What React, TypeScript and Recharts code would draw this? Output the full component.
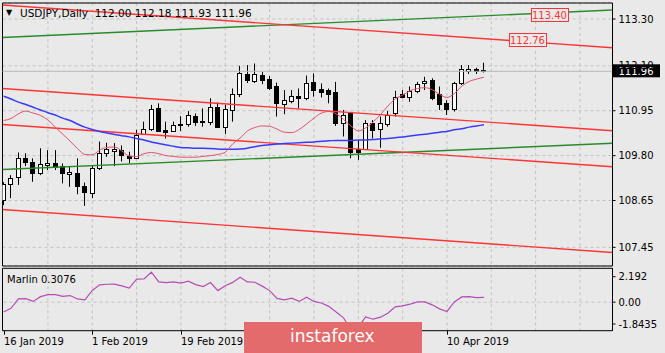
import React from 'react';
import {
  ComposedChart,
  Bar,
  Line,
  XAxis,
  YAxis,
  CartesianGrid,
  ReferenceLine,
  ReferenceArea,
  ReferenceDot,
} from 'recharts';

const W = 665;
const H = 353;
const BG = '#e9e9e9';
const FONT = '"DejaVu Sans", Verdana, sans-serif';

// ---------- data ----------
const xTickIndex = [0, 12, 24, 60];
const xTickLabels = ['16 Jan 2019', '1 Feb 2019', '19 Feb 2019', '10 Apr 2019'];
const gridIndex = [6, 12, 18, 24, 30, 36, 42, 48, 54, 60, 66, 72, 78];
const priceTicks = [107.45, 108.65, 109.8, 110.95, 112.1, 113.3];
const marlinTicks = [-1.8435, 0, 2.192];
const marlinTickLabels = ['-1.8435', '0.00', '2.192'];

const open = [
  108.66, 109.07, 109.24, 109.73, 109.64, 109.35, 109.55, 109.62, 109.53, 109.32,
  109.35, 109.02, 108.85, 109.47, 109.87, 109.93, 109.94, 109.79, 109.75, 110.35,
  110.48, 111.01, 110.46, 110.44, 110.6, 110.6, 110.82, 110.69, 110.65, 111.05,
  110.54, 110.97, 111.37, 111.89, 111.71, 111.87, 111.76, 111.58, 111.12, 111.2,
  111.34, 111.27, 111.69, 111.5, 111.48, 111.42, 110.63, 110.88, 109.96, 109.97,
  110.63, 110.47, 110.6, 110.9, 111.37, 111.31, 111.46, 111.65, 111.74, 111.37,
  111.14, 110.99, 111.65, 111.96, 112.01, 112.0,
];
const high = [
  109.12, 109.3, 109.88, 109.86, 109.73, 109.99, 109.94, 109.94, 109.6, 109.53,
  109.73, 109.11, 109.56, 110.16, 110.13, 110.12, 110.06, 109.9, 110.46, 110.67,
  111.1, 111.14, 110.67, 110.67, 110.81, 110.94, 110.88, 111.01, 111.27, 111.16,
  111.1, 111.52, 112.1, 112.12, 112.16, 111.94, 111.84, 111.67, 111.48, 111.48,
  111.52, 111.85, 111.91, 111.65, 111.52, 111.69, 110.97, 110.92, 110.2, 110.71,
  110.71, 110.8, 110.94, 111.46, 111.48, 111.57, 111.69, 111.82, 111.78, 111.57,
  111.22, 111.69, 112.12, 112.12, 112.05, 112.18,
];
const low = [
  108.53, 108.71, 109.05, 109.53, 109.13, 109.3, 109.43, 109.43, 109.09, 109.0,
  108.81, 108.51, 108.71, 109.43, 109.77, 109.53, 109.65, 109.6, 109.73, 110.33,
  110.43, 110.41, 110.24, 110.41, 110.43, 110.54, 110.56, 110.54, 110.58, 110.52,
  110.35, 110.67, 111.3, 111.66, 111.66, 111.63, 111.48, 110.8, 110.86, 111.14,
  111.01, 111.22, 111.31, 111.29, 111.14, 110.56, 110.29, 109.73, 109.69, 109.94,
  110.24, 110.0, 110.54, 110.8, 111.27, 111.18, 111.4, 111.48, 111.22, 110.97,
  110.84, 110.93, 111.61, 111.89, 111.89, 111.93,
];
const close = [
  109.07, 109.22, 109.73, 109.64, 109.36, 109.58, 109.62, 109.5, 109.35, 109.37,
  109.02, 108.88, 109.47, 109.87, 109.96, 109.96, 109.82, 109.73, 110.33, 110.48,
  111.0, 110.43, 110.41, 110.58, 110.62, 110.84, 110.67, 110.66, 111.04, 110.54,
  110.99, 111.37, 111.92, 111.74, 111.89, 111.74, 111.52, 111.14, 111.22, 111.34,
  111.27, 111.65, 111.47, 111.43, 111.39, 110.63, 110.84, 109.9, 109.9, 110.63,
  110.46, 110.63, 110.84, 111.31, 111.31, 111.46, 111.64, 111.71, 111.27, 111.11,
  110.99, 111.65, 112.02, 112.03, 111.98, 111.96,
];
const maFast = [
  110.7, 110.75, 110.87, 110.94, 110.89, 110.83, 110.71, 110.53, 110.35, 110.17,
  109.98, 109.83, 109.82, 109.94, 110.01, 110.02, 109.92, 109.79, 109.78, 109.85,
  109.88, 109.85, 109.8, 109.78, 109.76, 109.76, 109.76, 109.78, 109.8, 109.83,
  109.89, 110.1, 110.25, 110.43, 110.52, 110.56, 110.55, 110.48, 110.4, 110.39,
  110.47, 110.61, 110.76, 110.89, 110.93, 110.87, 110.73, 110.56, 110.43, 110.51,
  110.66, 110.85, 111.07, 111.25, 111.35, 111.46, 111.52, 111.54, 111.49, 111.37,
  111.29, 111.39, 111.58, 111.7, 111.76, 111.81,
];
const maSlow = [
  111.32, 111.25, 111.17, 111.11, 111.04, 110.97, 110.9, 110.84, 110.76, 110.7,
  110.61, 110.53, 110.47, 110.42, 110.38, 110.34, 110.31, 110.28, 110.24, 110.2,
  110.15, 110.11, 110.07, 110.04, 110.01, 110.0, 109.99, 109.99, 109.98, 109.97,
  109.96, 109.96, 109.97, 109.99, 110.03, 110.06, 110.08, 110.1, 110.11, 110.12,
  110.13, 110.14, 110.15, 110.17, 110.18, 110.19, 110.19, 110.19, 110.2, 110.2,
  110.21, 110.23, 110.24, 110.26, 110.28, 110.3, 110.33, 110.35, 110.37, 110.4,
  110.42, 110.46, 110.49, 110.53, 110.56, 110.59,
];
const marlin = [
  -0.63, -0.4, 0.21, 0.23, 0.05, 0.36, 0.49, 0.49, 0.38, 0.43,
  0.21, 0.15, 0.76, 1.12, 1.16, 1.17, 1.06, 0.91, 1.49, 1.5,
  1.94, 1.31, 1.27, 1.31, 1.24, 1.36, 1.14, 1.01, 1.27, 0.75,
  1.06, 1.28, 1.62, 1.31, 1.29, 1.04, 0.75, 0.25, 0.15, 0.26,
  0.05, 0.32, 0.05, -0.05, -0.27, -0.63, -1.01, -1.8, -1.6, -0.95,
  -1.1, -0.97, -0.71, -0.3, -0.24, -0.13, 0.02, 0.02, -0.17, -0.43,
  -0.6, 0.02, 0.34, 0.36, 0.3, 0.31,
];

// trend / channel lines (bar index, price)
const trendLines = [
  { x1: -0.149, y1: 112.826, x2: 82.4, y2: 113.531, color: '#2a8a2a' },
  { x1: -0.149, y1: 109.444, x2: 82.4, y2: 110.115, color: '#2a8a2a' },
  { x1: -0.149, y1: 113.659, x2: 82.4, y2: 112.565, color: '#ff3434' },
  { x1: -0.149, y1: 111.519, x2: 82.4, y2: 110.438, color: '#ff3434' },
  { x1: -0.149, y1: 110.597, x2: 82.4, y2: 109.516, color: '#ff3434' },
  { x1: -0.149, y1: 108.419, x2: 82.4, y2: 107.317, color: '#ff3434' },
];
const trendTags = [
  { x: 73.87, y: 113.4, text: '113.40' },
  { x: 70.89, y: 112.76, text: '112.76' },
];
const lastPrice = 111.96;
const titleText = 'USDJPY,Daily  112.00 112.18 111.93 111.96';
const marlinText = 'Marlin 0.3076';

const X_DOMAIN: [number, number] = [-0.149, 82.4];
const Y_DOMAIN: [number, number] = [106.972, 113.71];
const M_DOMAIN: [number, number] = [-1.8435, 2.192];

const rows = open.map((o, i) => ({
  i,
  o,
  h: high[i],
  l: low[i],
  c: close[i],
  fast: maFast[i],
  slow: maSlow[i],
  m: marlin[i],
}));

// ---------- shapes ----------
const Candle = (props: any) => {
  const { x, y, width, height, payload } = props;
  if (!payload || x == null || y == null) return null;
  const { o, h, l, c } = payload;
  const top = Math.min(y, y + height);
  const span = Math.abs(height);
  const ppu = h > l ? span / (h - l) : 0;
  const yBodyTop = top + (h - Math.max(o, c)) * ppu;
  const yBodyBot = top + (h - Math.min(o, c)) * ppu;
  const cx = Math.floor(x + width / 2) + 0.5;
  const bTop = Math.round(yBodyTop) + 0.5;
  const bBot = Math.max(Math.round(yBodyBot) + 0.5, bTop + 1);
  const bull = c >= o;
  return (
    <g>
      <line x1={cx} x2={cx} y1={top} y2={top + span} stroke="#000" strokeWidth={1} />
      <rect x={cx - 2} y={bTop} width={4} height={bBot - bTop} fill={bull ? '#fff' : '#000'} stroke="#000" strokeWidth={1} />
    </g>
  );
};

const PriceTag = (props: any) => {
  const vb = props.viewBox;
  if (!vb) return null;
  const x = vb.x + vb.width + 0.5;
  const y = vb.y;
  return (
    <g>
      <rect x={x} y={y - 7} width={47} height={13} fill="#000" />
      <text x={x + 5.5} y={y} dy="0.36em" fill="#fff" fontSize={10} fontFamily={FONT}>
        {lastPrice.toFixed(2)}
      </text>
    </g>
  );
};

const makeTag = (text: string) => (props: any) => {
  const { cx, cy } = props;
  if (cx == null || cy == null) return null;
  return (
    <g>
      <rect x={Math.round(cx - 18.5) + 0.5} y={Math.round(cy - 7) + 0.5} width={37} height={13} fill={BG} stroke="#ff3434" strokeWidth={1} />
      <text x={cx} y={cy} dy="0.36em" textAnchor="middle" fill="#ff3434" fontSize={10} fontFamily={FONT}>
        {text}
      </text>
    </g>
  );
};

const DateTick = (props: any) => {
  const { x, y, payload } = props;
  const idx = xTickIndex.indexOf(payload.value);
  if (idx < 0) return null;
  const px = Math.round(x) + 0.5;
  return (
    <g>
      <line x1={px} x2={px} y1={y} y2={y + 4} stroke="#000" />
      <text x={px - 0.5} y={y + 14.5} fill="#000" fontSize={10} fontFamily={FONT}>
        {xTickLabels[idx]}
      </text>
    </g>
  );
};

const MarlinTick = (props: any) => {
  const { x, y, payload } = props;
  const idx = marlinTicks.indexOf(payload.value);
  if (idx < 0) return null;
  const shift = idx === 2 ? 8.4 : idx === 0 ? -6.7 : 0;
  const ty = y + shift;
  return (
    <g>
      <line x1={x - 6} x2={x - 3} y1={ty} y2={ty} stroke="#000" />
      <text x={x} y={ty} dy="0.36em" fill="#000" fontSize={10} fontFamily={FONT}>
        {marlinTickLabels[idx]}
      </text>
    </g>
  );
};

export default function App() {
  return (
    <div style={{ position: 'absolute', left: 0, top: 0, width: W, height: H, background: BG, overflow: 'hidden' }}>
      {/* main price panel */}
      <div style={{ position: 'absolute', left: 0, top: 0 }}>
        <ComposedChart width={W} height={267} data={rows} margin={{ top: 3, right: 0, bottom: 1, left: 2.5 }}>
          <XAxis dataKey="i" type="number" domain={X_DOMAIN} ticks={gridIndex} hide allowDataOverflow />
          <YAxis
            orientation="right"
            type="number"
            domain={Y_DOMAIN}
            ticks={priceTicks}
            allowDataOverflow
            width={52.5}
            interval={0}
            tickSize={3}
            tickMargin={3}
            axisLine={{ stroke: '#000' }}
            tickLine={{ stroke: '#000' }}
            tick={{ fill: '#000', fontSize: 10, fontFamily: FONT }}
            tickFormatter={(v: number) => v.toFixed(2)}
          />
          <CartesianGrid stroke="#c2c2c2" strokeDasharray="3 3" />
          <ReferenceLine y={lastPrice} stroke="#b8b8b8" strokeWidth={1} label={<PriceTag />} />
          {trendLines.map((t, k) => (
            <ReferenceLine
              key={'t' + k}
              segment={[{ x: t.x1, y: t.y1 }, { x: t.x2, y: t.y2 }]}
              stroke={t.color}
              strokeWidth={1.4}
              ifOverflow="hidden"
            />
          ))}
          <Line dataKey="slow" type="monotone" stroke="#3a3aff" strokeWidth={1.5} dot={false} isAnimationActive={false} />
          <Line dataKey="fast" type="monotone" stroke="#e0506e" strokeWidth={1} dot={false} isAnimationActive={false} />
          <Bar dataKey={(d: any) => [d.l, d.h]} barSize={5} shape={<Candle />} isAnimationActive={false} />
          {trendTags.map((t, k) => (
            <ReferenceDot key={'g' + k} x={t.x} y={t.y} r={1} shape={makeTag(t.text)} />
          ))}
          <ReferenceArea x1={X_DOMAIN[0]} x2={X_DOMAIN[1]} y1={Y_DOMAIN[0]} y2={Y_DOMAIN[1]} fill="none" stroke="#000" strokeWidth={1} fillOpacity={0} />
        </ComposedChart>
      </div>

      {/* Marlin panel */}
      <div style={{ position: 'absolute', left: 0, top: 0 }}>
        <ComposedChart width={W} height={H} data={rows} margin={{ top: 268.3, right: 0, bottom: 0, left: 2.5 }}>
          <XAxis
            dataKey="i"
            type="number"
            domain={X_DOMAIN}
            ticks={xTickIndex}
            interval={0}
            allowDataOverflow
            height={22.3}
            tickSize={0}
            tickMargin={0}
            axisLine={false}
            tickLine={false}
            tick={<DateTick />}
          />
          <XAxis xAxisId="grid" dataKey="i" type="number" domain={X_DOMAIN} ticks={gridIndex} hide allowDataOverflow />
          <YAxis
            orientation="right"
            type="number"
            domain={M_DOMAIN}
            ticks={marlinTicks}
            allowDataOverflow
            width={52.5}
            interval={0}
            tickSize={3}
            tickMargin={3}
            axisLine={{ stroke: '#000' }}
            tickLine={false}
            tick={<MarlinTick />}
          />
          <CartesianGrid xAxisId="grid" horizontal={false} stroke="#c2c2c2" strokeDasharray="3 3" />
          <ReferenceLine y={0} stroke="#c2c2c2" strokeDasharray="3 3" />
          <Line dataKey="m" type="linear" stroke="#b54db5" strokeWidth={1.2} dot={false} isAnimationActive={false} />
          <ReferenceArea x1={X_DOMAIN[0]} x2={X_DOMAIN[1]} y1={M_DOMAIN[0]} y2={M_DOMAIN[1]} fill="none" stroke="#000" strokeWidth={1} fillOpacity={0} />
        </ComposedChart>
      </div>

      {/* text overlays */}
      <svg width={W} height={H} style={{ position: 'absolute', left: 0, top: 0, pointerEvents: 'none' }}>
        <text x={6} y={15} fontSize={8} fontFamily={FONT} fill="#000">▼</text>
        <text x={20} y={16.5} fontSize={10.5} fontFamily={FONT} fill="#000" style={{ whiteSpace: 'pre' }}>
          {titleText}
        </text>
        <text x={7} y={282.5} fontSize={10} fontFamily={FONT} fill="#000">{marlinText}</text>
      </svg>

      {/* watermark */}
      <div
        style={{
          position: 'absolute',
          left: 244,
          top: 322,
          width: 178,
          height: 31,
          background: '#e36b6b',
          color: '#fff',
          fontFamily: FONT,
          fontSize: 17,
          lineHeight: '29px',
          paddingLeft: 46,
          boxSizing: 'border-box',
        }}
      >
        instaforex
      </div>
    </div>
  );
}
